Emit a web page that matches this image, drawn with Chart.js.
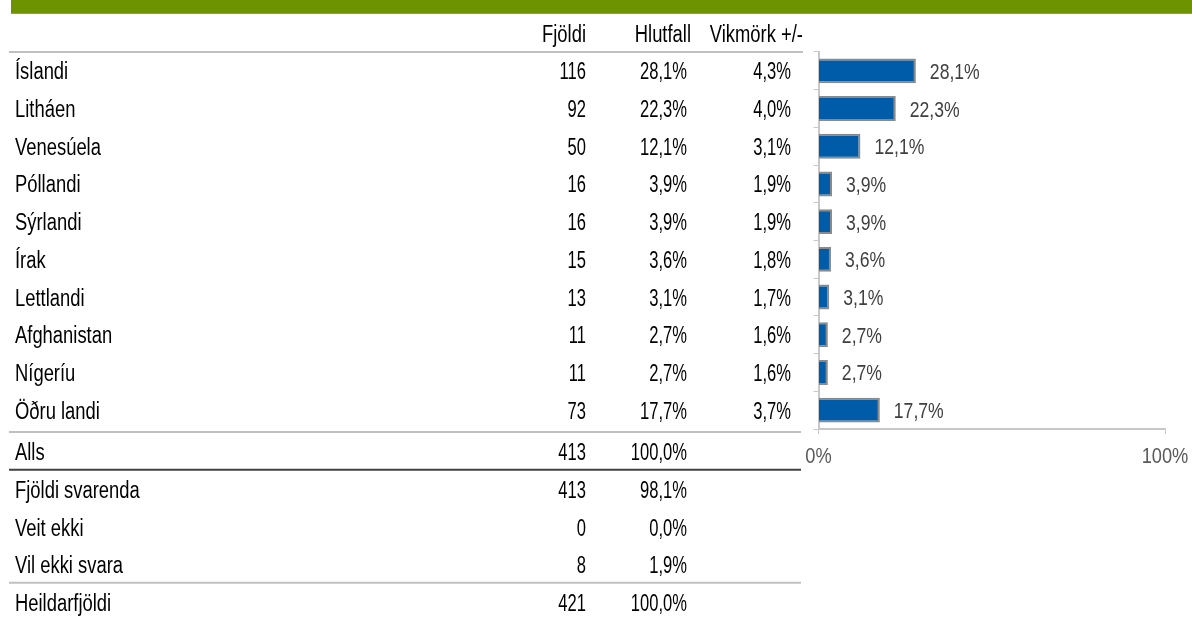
<!DOCTYPE html>
<html>
<head>
<meta charset="utf-8">
<script src="https://cdn.jsdelivr.net/npm/chart.js@4"></script>
<style>
  body { margin: 0; background: #fff; }
  #wrap { position: relative; width: 1192px; height: 617px; }
  #band { position: absolute; left: 11px; top: 0; width: 1181px; height: 13px;
          background: #6e9300; border-bottom: 1px solid #8aab1c; }
  canvas { position: absolute; left: 0; top: 0; }
</style>
</head>
<body>
<div id="wrap">
  <canvas id="chart" width="1192" height="617"></canvas>
  <div id="band"></div>
</div>
<script>
const categories = ["Íslandi", "Litháen", "Venesúela", "Póllandi", "Sýrlandi",
  "Írak", "Lettlandi", "Afghanistan", "Nígeríu", "Öðru landi"];
const counts = [116, 92, 50, 16, 16, 15, 13, 11, 11, 73];
const shares = [28.1, 22.3, 12.1, 3.9, 3.9, 3.6, 3.1, 2.7, 2.7, 17.7];
const margins = [4.3, 4.0, 3.1, 1.9, 1.9, 1.8, 1.7, 1.6, 1.6, 3.7];
const columnHeads = ["Fjöldi", "Hlutfall", "Vikmörk +/-"];
const summaryLabels = ["Alls", "Fjöldi svarenda", "Veit ekki", "Vil ekki svara", "Heildarfjöldi"];
const summaryCounts = [413, 413, 0, 8, 421];
const summaryShares = [100.0, 98.1, 0.0, 1.9, 100.0];
const xTicks = [0, 100];

const FONT = "'Liberation Sans', Arial, sans-serif";
const pct = (v) => v.toFixed(1).replace(".", ",") + "%";

// condensed text like the original narrow font
function narrow(ctx, text, x, y, align, sx) {
  ctx.save();
  ctx.translate(x, y);
  ctx.scale(sx, 1);
  ctx.textAlign = align;
  ctx.fillText(text, 0, 0);
  ctx.restore();
}

// table text, bar value labels and x tick labels, placed from the scales
const tablePlugin = {
  id: "table",
  afterDraw(chart) {
    const ctx = chart.ctx;
    const y = chart.scales.y;
    const x = chart.scales.x;
    const area = chart.chartArea;
    const colLabel = 15, colCount = 586, colShare = 687, colMargin = 791;
    const sw = 0.8, sn = 0.72;   // word / number squeeze
    const base = 8.5;
    ctx.save();
    ctx.font = "23px " + FONT;
    ctx.textBaseline = "alphabetic";
    ctx.fillStyle = "#000";

    // header
    const hy = y.getPixelForValue(-1) + base;
    narrow(ctx, columnHeads[0], colCount, hy, "right", sw);
    narrow(ctx, columnHeads[1], colShare + 4, hy, "right", sw);
    narrow(ctx, columnHeads[2], 803, hy, "right", sw);

    categories.forEach((c, i) => {
      const ry = y.getPixelForValue(i) + base;
      narrow(ctx, c, colLabel, ry, "left", sw);
      narrow(ctx, String(counts[i]), colCount, ry, "right", sn);
      narrow(ctx, pct(shares[i]), colShare, ry, "right", sn);
      narrow(ctx, pct(margins[i]), colMargin, ry, "right", sn);
    });

    const sumY = summaryLabels.map((_, k) => y.getPixelForValue(categories.length + k) + 4);
    summaryLabels.forEach((s, k) => {
      const ry = sumY[k] + base;
      narrow(ctx, s, colLabel, ry, "left", sw);
      narrow(ctx, String(summaryCounts[k]), colCount, ry, "right", sn);
      narrow(ctx, pct(summaryShares[k]), colShare, ry, "right", sn);
    });

    // rules
    const rule = (yy, color, x2) => {
      ctx.beginPath();
      ctx.strokeStyle = color;
      ctx.lineWidth = 2;
      ctx.moveTo(9, yy);
      ctx.lineTo(x2, yy);
      ctx.stroke();
    };
    rule(area.top, "#c0c0c0", 803);
    rule(area.bottom + 3, "#c0c0c0", 801);
    rule((sumY[0] + sumY[1]) / 2 - 1, "#404040", 801);
    rule((sumY[3] + sumY[4]) / 2 - 1, "#c0c0c0", 801);

    // bar value labels
    ctx.font = "22px " + FONT;
    ctx.fillStyle = "#404040";
    chart.getDatasetMeta(0).data.forEach((bar, i) => {
      narrow(ctx, pct(shares[i]), bar.x + 14, bar.y + 8, "left", 0.8);
    });

    // x tick labels
    ctx.fillStyle = "#595959";
    x.ticks.forEach((t) => {
      narrow(ctx, t.value + "%", x.getPixelForValue(t.value), area.bottom + 34, "center", 0.83);
    });
    ctx.restore();
  },
};

new Chart(document.getElementById("chart"), {
  type: "bar",
  data: {
    labels: categories,
    datasets: [{
      data: shares,
      backgroundColor: "#005ba8",
      borderColor: "#8a8a8a",
      borderWidth: 2,
      categoryPercentage: 1,
      barPercentage: 0.66,
    }],
  },
  options: {
    indexAxis: "y",
    responsive: false,
    animation: false,
    devicePixelRatio: 1,
    layout: { padding: { left: 813.5, right: 27, top: 52, bottom: 158 } },
    plugins: { legend: { display: false }, tooltip: { enabled: false } },
    scales: {
      x: {
        min: xTicks[0],
        max: xTicks[1],
        afterBuildTicks: (s) => { s.ticks = xTicks.map((v) => ({ value: v })); },
        afterFit: (s) => { s.height = 30; },
        border: { color: "#c8c8c8", width: 2 },
        grid: { drawOnChartArea: false, tickLength: 5, color: "#c8c8c8" },
        ticks: { display: false },
      },
      y: {
        afterFit: (s) => { s.width = 5; },
        border: { color: "#c8c8c8", width: 2 },
        grid: { drawOnChartArea: false, tickLength: 5, color: "#c8c8c8" },
        ticks: { display: false },
      },
    },
  },
  plugins: [tablePlugin],
});
</script>
</body>
</html>
